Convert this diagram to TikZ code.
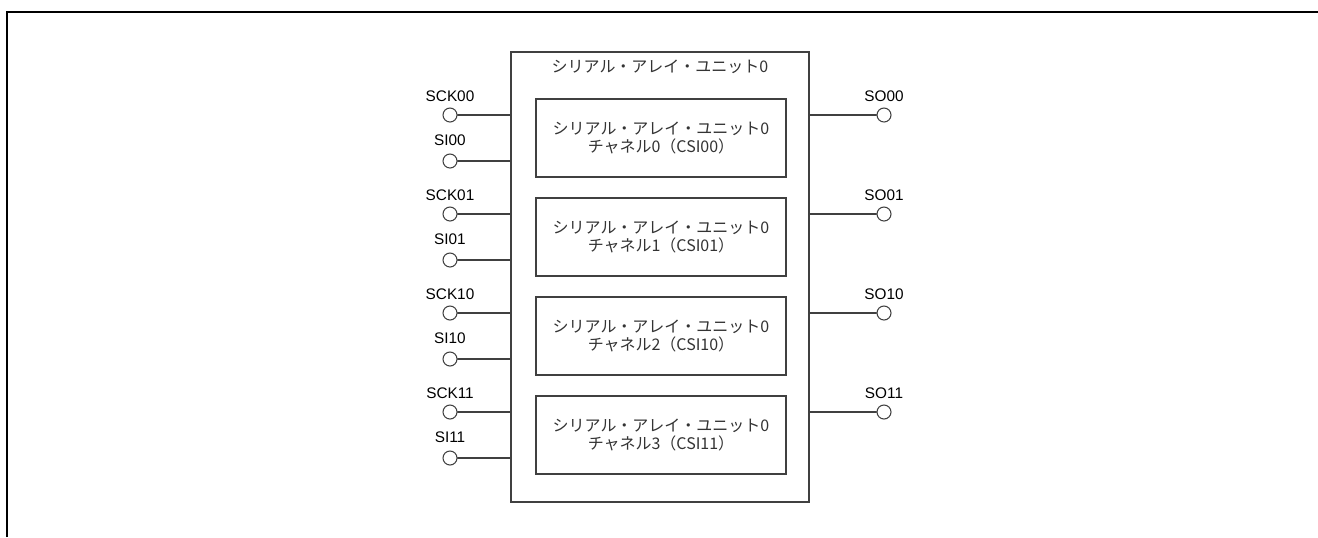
\documentclass[tikz,border=0pt]{standalone}
\usepackage{fontspec}
\setmainfont{Liberation Sans}
\newfontfamily\jpfont{Noto Sans CJK JP}
\colorlet{linecolor}{black!75}
\colorlet{jptextcolor}{black!80}

\begin{document}
\begin{tikzpicture}
  [x=0.75pt,y=-0.75pt,line cap=round,
   % Styles
   frame line/.style={line width=1.6pt,line cap=butt},
   unit box/.style={draw=linecolor,line width=0.8pt,minimum width=223.5pt,minimum height=337.5pt},
   channel box/.style={draw=linecolor,line width=0.8pt,minimum width=187.5pt,minimum height=58.5pt,
     align=center,text=jptextcolor,font=\jpfont\fontsize{12pt}{13pt}\selectfont},
   pin circle/.style={circle,draw=linecolor,line width=0.8pt,fill=white,minimum size=10.5pt,inner sep=0pt},
   pin label/.style={font=\fontsize{11.5pt}{13pt}\selectfont,inner sep=1pt},
   wire/.style={draw=linecolor,line width=0.8pt}]

  \useasboundingbox (0,0) rectangle (1318,537);

  % The frame, open to the right and below
  \draw[frame line] (7,537) -- (7,12) -- (1318,12);

  % The unit and its title
  \node[unit box] (unit) at (660,277) {};
  \node[text=jptextcolor,font=\jpfont\fontsize{12pt}{13pt}\selectfont] (title) at (660,67)
    {シリアル・アレイ・ユニット0};

  % The channels, with their pins
  \foreach \i/\n in {0/00,1/01,2/10,3/11}
  {
    \node[channel box] (ch\i) at (661,{138+99*\i})
      {シリアル・アレイ・ユニット0\\チャネル\i（CSI\n）};

    \node[pin circle,label={[pin label,label distance=3pt]above:SCK\n}] (sck\i) at (450,{115+99*\i}) {};
    \node[pin circle,label={[pin label,label distance=5pt]above:SI\n}] (si\i) at (450,{161+99*\i}) {};
    \node[pin circle,label={[pin label,label distance=3pt]above:SO\n}] (so\i) at (884,{115+99*\i}) {};

    \draw[wire] (sck\i) -- (sck\i -| unit.west);
    \draw[wire] (si\i) -- (si\i -| unit.west);
    \draw[wire] (so\i) -- (so\i -| unit.east);
  }
\end{tikzpicture}
\end{document}
